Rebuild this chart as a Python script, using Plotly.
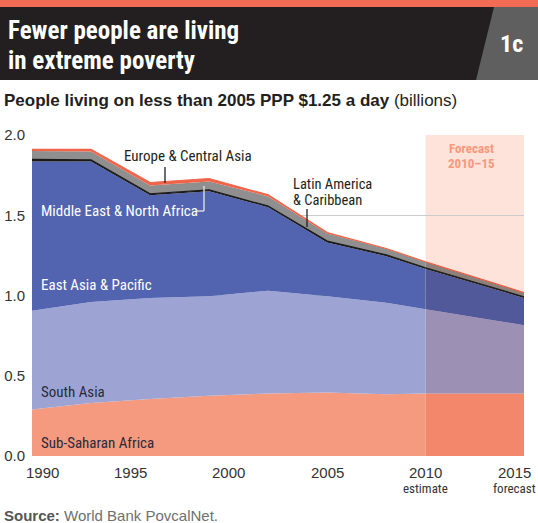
import plotly.graph_objects as go

# ---- data (billions of people) ----
years = [1990, 1993, 1996, 1999, 2002, 2005, 2008, 2010, 2015]
ssa = [0.29, 0.33, 0.355, 0.375, 0.39, 0.395, 0.385, 0.39, 0.39]
sa = [0.615, 0.63, 0.63, 0.62, 0.64, 0.60, 0.57, 0.525, 0.425]
eap = [0.93, 0.875, 0.64, 0.655, 0.52, 0.335, 0.29, 0.25, 0.17]
mena = [0.013, 0.010, 0.009, 0.008, 0.007, 0.009, 0.009, 0.008, 0.007]
lac = [0.053, 0.052, 0.052, 0.053, 0.060, 0.047, 0.037, 0.035, 0.025]
eca = [0.009, 0.013, 0.018, 0.018, 0.010, 0.006, 0.002, 0.002, 0.001]

xtick_vals = [1990, 1995, 2000, 2005, 2010, 2015]
xtick_text = ["1990", "1995", "2000", "2005", "2010", "2015"]
xtick_sub = {2010: "estimate", 2015: "forecast"}
ytick_vals = [0, 0.5, 1.0, 1.5, 2.0]
ytick_text = ["0.0", "0.5", "1.0", "1.5", "2.0"]
forecast_start, forecast_end = 2010, 2015

W, H = 538, 523
L, R, T, B = 32, 14, 135, 67
PW, PH = W - L - R, H - T - B


def px(x):
    return (x - L) / PW


def py(y):
    return (H - B - y) / PH


series = [
    ("Sub-Saharan Africa", ssa, "#F5997F", "#F2876C", 0),
    ("South Asia", sa, "#9DA4D3", "#9C91B4", 0),
    ("East Asia & Pacific", eap, "#5264B0", "#51599A", 0),
    ("Middle East & North Africa", mena, "#1A1A1A", "#1A1A1A", 1.2),
    ("Latin America & Caribbean", lac, "#8F8F8F", "#8D7F7A", 0),
    ("Europe & Central Asia", eca, "#F0654A", "#EE5A40", 1.2),
]

n_hist = years.index(forecast_start) + 1
fig = go.Figure()
for name, vals, col, fcol, lw in series:
    fig.add_trace(go.Scatter(
        x=years[:n_hist], y=vals[:n_hist], stackgroup="hist", mode="lines",
        line=dict(width=lw, color=col), fillcolor=col, name=name,
        hoverinfo="skip", showlegend=False))
for name, vals, col, fcol, lw in series:
    fig.add_trace(go.Scatter(
        x=years[n_hist - 1:], y=vals[n_hist - 1:], stackgroup="fc", mode="lines",
        line=dict(width=lw, color=fcol), fillcolor=fcol, name=name,
        hoverinfo="skip", showlegend=False))

shapes = []
# forecast band
shapes.append(dict(type="rect", xref="x", yref="y", x0=forecast_start, x1=forecast_end,
                   y0=0, y1=2.0, fillcolor="#FDE3DA", line=dict(width=0), layer="below"))
# header
shapes.append(dict(type="rect", xref="paper", yref="paper", x0=px(0), x1=px(W),
                   y0=py(7), y1=py(0), fillcolor="#F26B55", line=dict(width=0)))
shapes.append(dict(type="rect", xref="paper", yref="paper", x0=px(0), x1=px(W),
                   y0=py(80), y1=py(7), fillcolor="#231F20", line=dict(width=0)))
shapes.append(dict(type="path", xref="paper", yref="paper",
                   path=f"M {px(494)} {py(7)} L {px(W)} {py(7)} L {px(W)} {py(80)} L {px(476)} {py(80)} Z",
                   fillcolor="#5F5F5F", line=dict(width=0)))
# leader lines
shapes.append(dict(type="line", xref="paper", yref="paper", x0=px(165), x1=px(165),
                   y0=py(167), y1=py(183), line=dict(color="#231F20", width=1.3)))
shapes.append(dict(type="line", xref="paper", yref="paper", x0=px(204), x1=px(204),
                   y0=py(211), y1=py(186), line=dict(color="#E6E6E6", width=1.3)))
shapes.append(dict(type="line", xref="paper", yref="paper", x0=px(197), x1=px(204),
                   y0=py(211), y1=py(211), line=dict(color="#E6E6E6", width=1.3)))
shapes.append(dict(type="line", xref="paper", yref="paper", x0=px(307), x1=px(307),
                   y0=py(209), y1=py(227), line=dict(color="#231F20", width=1.3)))

NARROW = "Liberation Sans Narrow, Roboto Condensed, Liberation Sans, Arial"
REG = "Liberation Sans, Arial"
ann = []


def text(x, y, s, size, color, font=NARROW, xanchor="left", yanchor="middle"):
    ann.append(dict(xref="paper", yref="paper", x=px(x), y=py(y), text=s, showarrow=False,
                    xanchor=xanchor, yanchor=yanchor, borderpad=0,
                    font=dict(family=font, size=size, color=color)))


text(7, 30, "<b>Fewer people are living</b>", 25, "white")
text(7, 61, "<b>in extreme poverty</b>", 25, "white")
text(511, 44, "<b>1c</b>", 24, "white", xanchor="center")
text(3, 100, "<b>People living on less than 2005 PPP $1.25 a day</b> (billions)", 17, "#231F20", font=REG)
text(3, 515, "<b><span style='color:#555555'>Source:</span></b> World Bank PovcalNet.", 15,
     "#707070", font=REG)

text(123, 156, "Europe & Central Asia", 15, "#231F20")
text(40, 211, "Middle East & North Africa", 15, "white")
text(292, 184, "Latin America", 14.5, "#231F20")
text(292, 200, "& Caribbean", 14.5, "#231F20")
text(40, 285, "East Asia & Pacific", 15, "white")
text(40, 392, "South Asia", 15, "#2B2B3A")
text(40, 443, "Sub-Saharan Africa", 15, "#2B2B3A")
text(471, 148, "<b>Forecast</b>", 13, "#F7987D", xanchor="center")
text(471, 163, "<b>2010\u201315</b>", 13, "#F7987D", xanchor="center")

# x tick labels
for v, t in zip(xtick_vals, xtick_text):
    xp = L + (v - 1990) / (2015 - 1990) * PW
    if v == xtick_vals[0]:
        xp += 10
    if v == xtick_vals[-1]:
        xp -= 10
    text(xp, 472, t, 15, "#333333", font=REG, xanchor="center")
    if v in xtick_sub:
        text(xp, 489, xtick_sub[v], 13, "#333333", xanchor="center")

fig.update_layout(
    width=W, height=H,
    margin=dict(l=L, r=R, t=T, b=B, autoexpand=False),
    paper_bgcolor="white", plot_bgcolor="white",
    shapes=shapes, annotations=ann,
    xaxis=dict(range=[1990, 2015], showgrid=False, zeroline=False, showticklabels=False,
               showline=False, fixedrange=True, automargin=False),
    yaxis=dict(range=[0, 2.0], tickvals=ytick_vals, ticktext=ytick_text, showgrid=True,
               gridcolor="#CCCCCC", gridwidth=1, zeroline=False, showline=False,
               ticks="", ticklabelstandoff=6, automargin=False,
               tickfont=dict(family=REG, size=15, color="#333333"), fixedrange=True),
    showlegend=False,
)

fig.write_html("out.html", config={"displayModeBar": False},
               post_script="document.body.style.margin='0';document.body.style.padding='0';"
                           "document.documentElement.style.overflow='hidden';")
